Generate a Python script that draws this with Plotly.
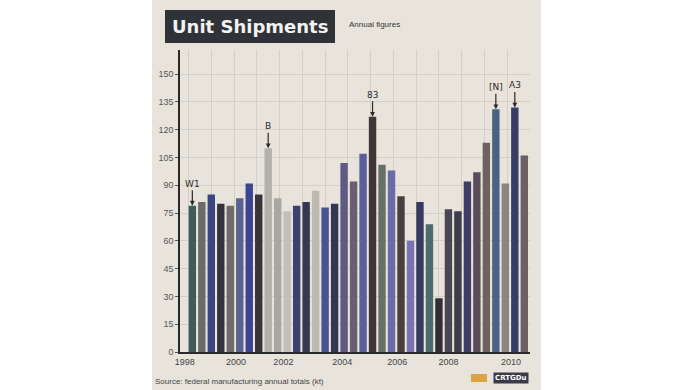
import plotly.graph_objects as go

# ---- data ----
periods = list(range(1, 37))
values = [79, 81, 85, 80, 79, 83, 91, 85, 110, 83, 76, 79,
          81, 87, 78, 80, 102, 92, 107, 127, 101, 98, 84, 60,
          81, 69, 29, 77, 76, 92, 97, 113, 131, 91, 132, 106]
bar_colors = ["#3f5c5a", "#6b6b69", "#3a4582", "#34333d", "#6e6c6a", "#5a6390",
              "#3b4592", "#383439", "#b3b1ac", "#a9a7a1", "#c2bfb9", "#3d4172",
              "#363850", "#bcb9b2", "#4a5292", "#353650", "#5e5a84", "#6b5e6e",
              "#5a5f9c", "#3f3535", "#66706a", "#6a6ca8", "#4a3f40", "#7a72b2",
              "#353a5e", "#4d6b6b", "#2f2f35", "#484654", "#3d3c4a", "#3e3d68",
              "#5a4c5c", "#6e6260", "#4c6282", "#8a8580", "#383d68", "#6a6066"]
x_tick_pos = [0.2, 5.6, 10.6, 16.8, 22.6, 28.0, 34.6]
x_tick_labels = ["1998", "2000", "2002", "2004", "2006", "2008", "2010"]
y_ticks = [0, 15, 30, 45, 60, 75, 90, 105, 120, 135, 150]
callouts = [(1, "W1"), (9, "B"), (20, "83"), (33, "[N]"), (35, "A3")]

fig = go.Figure()
fig.add_trace(go.Bar(
    x=periods, y=values, marker=dict(color=bar_colors, line=dict(width=0)),
    width=0.78, showlegend=False, hoverinfo="x+y"))

for p, txt in callouts:
    fig.add_annotation(x=p, y=values[p - 1], text=txt, showarrow=True,
                       arrowhead=2, arrowsize=0.8, arrowwidth=1.2, arrowcolor="#2a2a2a",
                       ax=0, ay=-22, font=dict(size=9, color="#2a2a2a", family="DejaVu Sans"))

L, R, T, B = 180, 163, 50, 38
W, H = 693, 390
pw, ph = W - L - R, H - T - B

# beige card
fig.add_shape(type="rect", xref="paper", yref="paper", layer="below",
              x0=(152 - L) / pw, x1=(541 - L) / pw, y0=-(B) / ph, y1=1 + T / ph,
              fillcolor="#e8e4dc", line=dict(width=0))
# title box
fig.add_shape(type="rect", xref="paper", yref="paper", layer="above",
              x0=(165 - L) / pw, x1=(335 - L) / pw, y0=1 + (T - 43) / ph, y1=1 + (T - 10) / ph,
              fillcolor="#2f3237", line=dict(width=0))
fig.add_annotation(xref="paper", yref="paper", x=(250 - L) / pw, y=1 + (T - 26.5) / ph,
                   text="<b>Unit Shipments</b>", showarrow=False,
                   font=dict(size=18, color="#f2f2f2", family="DejaVu Sans"),
                   xanchor="center", yanchor="middle")
fig.add_annotation(xref="paper", yref="paper", x=(347 - L) / pw, y=1 + (T - 25) / ph,
                   text="Annual figures", showarrow=False,
                   font=dict(size=8, color="#333333", family="Liberation Sans"),
                   xanchor="left", yanchor="middle")
fig.add_annotation(xref="paper", yref="paper", x=(153 - L) / pw, y=-(381 - 352) / ph,
                   text="Source: federal manufacturing annual totals (kt)", showarrow=False,
                   font=dict(size=8, color="#444444", family="Liberation Sans"),
                   xanchor="left", yanchor="middle")
fig.add_annotation(xref="paper", yref="paper", x=(529 - L) / pw, y=-(378 - 352) / ph,
                   text="<b>CRTGDu</b>", showarrow=False, bgcolor="#3a3a48",
                   font=dict(size=7, color="#ffffff", family="DejaVu Sans"),
                   xanchor="right", yanchor="middle", borderpad=1)
fig.add_shape(type="rect", xref="paper", yref="paper", layer="above",
              x0=(471 - L) / pw, x1=(487 - L) / pw, y0=-(382 - 352) / ph, y1=-(374 - 352) / ph,
              fillcolor="#d9a441", line=dict(width=0))

fig.update_layout(
    width=W, height=H, margin=dict(l=L, r=R, t=T, b=B),
    paper_bgcolor="#ffffff", plot_bgcolor="rgba(0,0,0,0)",
    bargap=0.2,
    font=dict(family="Liberation Sans", size=9, color="#555555"),
)
fig.update_xaxes(range=[-0.3, 36.6], tickvals=x_tick_pos, ticktext=x_tick_labels,
                 showgrid=False, showline=True, linecolor="#2a2a2a", linewidth=1.5,
                 ticks="", tickfont=dict(size=9, color="#444444"),
                 minor=dict(tick0=0.6, dtick=2.4, showgrid=True, gridcolor="#d3cfc7", gridwidth=1))
fig.update_yaxes(range=[0, 163], tickvals=y_ticks, showgrid=True, gridcolor="#d3cfc7",
                 showline=True, linecolor="#2a2a2a", linewidth=1.5, ticks="outside",
                 ticklen=3, tickcolor="#555555", tickfont=dict(size=9, color="#555555"),
                 zeroline=False)

fig.write_html("out.html", config={"displayModeBar": False},
               post_script="document.body.style.margin='0';document.body.style.overflow='hidden';")
